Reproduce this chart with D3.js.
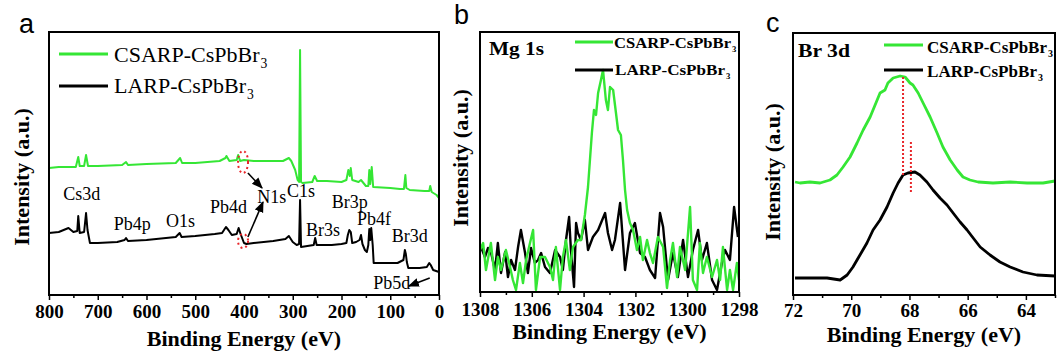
<!DOCTYPE html>
<html>
<head>
<meta charset="utf-8">
<script src="https://cdn.jsdelivr.net/npm/d3@7"></script>
<style>
  body { margin: 0; background: #fff; }
  svg { display: block; }
</style>
</head>
<body>
<svg id="chart" width="1057" height="354"></svg>
<script>
// ---- (a) survey spectrum
const surveyCsarpBE = [800,780,760,745,740,737,728,724,720,700,650,642,638,600,540,531,527,500,450,438,436,430,415,412,408,400,380,320,308,303,295,290,287,285,283,280,260,255,250,230,200,190,186,183,181,178,165,160,155,150,145,143,141,138,135,100,80,72,69,67,60,30,20,18,15,5,0];
const surveyCsarpI = [127,128,128,128,138,129,129,140,129,129,130,133,130,131,132,137,132,132,134,137,139,134,135,140,134,135,134,134,137,134,125,115,113,245,113,112,113,119,114,114,113,115,125,119,127,115,113,115,112,109,109,125,111,128,108,107,106,106,120,107,105,104,104,109,103,100,97];
const surveyLarpBE = [800,780,765,760,750,742,740,737,728,724,721,716,700,660,645,642,638,600,540,532,528,500,460,445,437,432,425,415,411,407,400,395,380,340,315,308,300,292,287,285,283,270,257,254,251,220,200,190,187,184,181,178,170,163,160,157,152,148,145,143,141,139,136,134,100,85,73,70,68,66,63,40,25,20,17,12,0];
const surveyLarpI = [62,63,66,67,63,64,79,62,63,82,65,52,52,53,55,57,54,55,58,62,58,59,61,62,68,65,60,61,67,61,52,51,52,54,56,59,53,50,51,95,48,49,50,57,50,50,51,52,60,65,63,52,53,55,60,51,45,43,50,66,55,67,50,32,32,32,35,45,41,33,27,27,28,32,30,25,23];
const surveyTicks = [800,700,600,500,400,300,200,100,0];
const surveyMinor = [750,650,550,450,350,250,150,50];
// peak labels: [text, BE, intensity]
const peakLabels = [
  ['Cs3d', 771, 95], ['Pb4p', 667, 65], ['O1s', 560, 68], ['Pb4d', 470, 82],
  ['N1s', 373, 92], ['C1s', 312, 98], ['Br3s', 273, 59], ['Br3p', 220, 87],
  ['Pb4f', 168, 70], ['Br3d', 97, 53], ['Pb5d', 135, 6]
];
// arrows: [fromBE, fromI, toBE, toI]
const peakArrows = [[392, 122, 363, 107], [392, 58, 361, 93], [19, 17, 62, 9]];
// dotted rings round the N1s region: [BE, intensity, rx, ry]
const n1sRings = [[402, 133, 5, 11], [402, 54, 5, 7]];

// ---- (b) Mg 1s
const mgCsarpBE = [1308.00,1307.88,1307.77,1307.58,1307.42,1307.31,1307.19,1307.00,1306.84,1306.73,1306.61,1306.46,1306.34,1306.22,1306.07,1305.95,1305.84,1305.68,1305.49,1305.30,1305.18,1305.07,1304.91,1304.80,1304.68,1304.53,1304.41,1304.22,1304.10,1303.95,1303.83,1303.68,1303.60,1303.52,1303.44,1303.33,1303.25,1303.14,1303.06,1302.98,1302.86,1302.75,1302.67,1302.56,1302.48,1302.40,1302.32,1302.21,1302.09,1301.94,1301.82,1301.71,1301.55,1301.44,1301.32,1301.13,1300.93,1300.78,1300.66,1300.55,1300.39,1300.28,1300.08,1299.89,1299.78,1299.62,1299.51,1299.39,1299.24,1299.04,1298.85,1298.73,1298.62,1298.46,1298.35,1298.23,1298.08,1298.00];
const mgCsarpI = [42,49,22,49,12,35,22,42,25,12,2,29,9,32,49,62,2,35,35,25,12,45,2,35,52,22,45,52,52,77,105,159,182,177,199,212,222,192,182,205,202,179,162,157,132,102,82,69,62,42,55,32,52,39,29,55,45,4,32,49,15,45,22,85,12,2,49,19,35,15,32,12,45,2,22,2,29,12];
const mgLarpBE = [1307.96,1307.81,1307.69,1307.58,1307.42,1307.31,1307.19,1307.03,1306.92,1306.80,1306.65,1306.53,1306.42,1306.26,1306.15,1306.03,1305.88,1305.76,1305.64,1305.49,1305.30,1305.10,1304.91,1304.80,1304.68,1304.56,1304.49,1304.37,1304.29,1304.22,1304.10,1303.95,1303.83,1303.64,1303.44,1303.33,1303.17,1303.06,1302.90,1302.79,1302.59,1302.40,1302.21,1302.02,1301.82,1301.63,1301.44,1301.24,1301.05,1300.93,1300.74,1300.55,1300.36,1300.16,1299.97,1299.78,1299.58,1299.43,1299.24,1299.04,1298.85,1298.66,1298.54,1298.35,1298.19,1298.04];
const mgLarpI = [45,35,44,40,22,49,19,40,15,32,22,45,62,39,19,44,29,32,39,25,19,42,35,22,52,75,42,5,69,59,52,72,42,55,62,69,79,59,42,52,89,22,59,69,39,35,22,14,79,65,12,39,15,52,15,42,62,32,49,12,2,29,42,32,85,55];
const mgTicks = [1308,1306,1304,1302,1300,1298];
const mgMinor = [1307,1305,1303,1301,1299];

// ---- (c) Br 3d
const brCsarpBE = [71.93,71.76,71.42,71.07,70.73,70.49,70.28,70.04,69.80,69.59,69.35,69.18,69.01,68.84,68.74,68.56,68.32,68.15,67.98,67.88,67.70,67.53,67.29,67.05,66.85,66.60,66.36,66.16,65.92,65.64,65.13,64.54,63.96,63.41,63.00];
const brCsarpI = [113,112,113,112,115,120,128,138,152,165,178,190,202,205,212,217,219,218,212,210,202,192,178,162,148,135,125,118,115,113,112,113,112,112,114];
const brLarpBE = [71.93,71.42,70.83,70.38,70.14,69.94,69.70,69.46,69.25,69.01,68.77,68.56,68.39,68.22,68.05,67.81,67.64,67.40,67.19,66.95,66.71,66.50,66.26,66.02,65.81,65.57,65.23,64.89,64.54,64.10,63.62,63.00];
const brLarpI = [17,17,17,15,20,28,40,52,65,75,88,102,112,120,122,123,120,113,105,97,90,82,73,65,57,48,40,33,28,23,20,19];
const brTicks = [72,70,68,66,64];
const brMinor = [71,69,67,65,63];
// red dotted peak markers: [BE, fromI, toI]
const brMarks = [[68.22, 120, 218], [67.95, 103, 153]];

const SERIF = '"Liberation Serif", "Times New Roman", serif';
const SANS = '"Liberation Sans", Arial, sans-serif';
const GREEN = '#35e635';

const svg = d3.select('#chart');

svg.append('defs').append('marker')
    .attr('id', 'arrow')
    .attr('viewBox', '0 0 10 10')
    .attr('refX', 9).attr('refY', 5)
    .attr('markerWidth', 7).attr('markerHeight', 7)
    .attr('orient', 'auto')
    .append('path')
    .attr('d', 'M0,1 L10,5 L0,9 Z')
    .attr('fill', '#000');

function panel(box, xDomain, yDomain, majors, minors) {
    const x = d3.scaleLinear().domain(xDomain).range([box.left, box.right]);
    const y = d3.scaleLinear().domain(yDomain).range([box.bottom, box.top]);
    const g = svg.append('g');
    const plot = g.append('g');

    g.append('g')
        .attr('transform', 'translate(0,' + box.bottom + ')')
        .call(d3.axisBottom(x).tickValues(minors).tickSize(3).tickFormat(''))
        .call(s => s.select('.domain').remove())
        .call(s => s.selectAll('text').remove())
        .selectAll('line').attr('stroke-width', 1.5);

    const ax = g.append('g')
        .attr('transform', 'translate(0,' + box.bottom + ')')
        .call(d3.axisBottom(x).tickValues(majors).tickSize(5).tickFormat(d3.format('d')));
    ax.select('.domain').remove();
    ax.selectAll('line').attr('stroke-width', 1.5);
    ax.selectAll('text')
        .attr('y', box.tickY).attr('dy', 0)
        .attr('font-family', SERIF).attr('font-weight', 'bold')
        .attr('font-size', 19).attr('fill', '#000');

    // frame
    g.append('rect')
        .attr('x', box.left).attr('y', box.top)
        .attr('width', box.right - box.left).attr('height', box.bottom - box.top)
        .attr('fill', 'none').attr('stroke', '#000').attr('stroke-width', 2);

    g.append('text')
        .attr('x', (box.left + box.right) / 2).attr('y', box.titleY)
        .attr('text-anchor', 'middle')
        .attr('font-family', SERIF).attr('font-weight', 'bold').attr('font-size', 22)
        .text('Binding Energy (eV)');

    g.append('text')
        .attr('transform', 'translate(' + box.yTitleX + ',' + box.yTitleMid + ') rotate(-90)')
        .attr('text-anchor', 'middle')
        .attr('font-family', SERIF).attr('font-weight', 'bold').attr('font-size', 22)
        .text('Intensity (a.u.)');

    g.append('text')
        .attr('x', box.letterX).attr('y', box.letterY)
        .attr('font-family', SANS).attr('font-size', 27)
        .text(box.letter);

    return {x, y, g, plot};
}

function drawSeries(p, be, vals, color, width) {
    const line = d3.line()
        .x(d => p.x(d[0]))
        .y(d => p.y(d[1]));
    p.plot.append('path')
        .datum(be.map((e, i) => [e, vals[i]]))
        .attr('d', line)
        .attr('fill', 'none')
        .attr('stroke', color)
        .attr('stroke-width', width)
        .attr('stroke-linejoin', 'round');
}

function legendItem(g, x0, x1, yLine, color, label, tx, ty, size, weight, len, lineW) {
    g.append('line')
        .attr('x1', x0).attr('x2', x1).attr('y1', yLine).attr('y2', yLine)
        .attr('stroke', color).attr('stroke-width', lineW);
    const t = g.append('text')
        .attr('x', tx).attr('y', ty)
        .attr('font-family', SERIF).attr('font-weight', weight).attr('font-size', size)
        .text(label);
    if (len) t.attr('textLength', len).attr('lengthAdjust', 'spacingAndGlyphs');
    const w = len || t.node().getComputedTextLength();
    g.append('text')
        .attr('x', tx + w + 1).attr('y', ty + size * 0.28)
        .attr('font-family', SERIF).attr('font-weight', weight).attr('font-size', size * 0.62)
        .text('3');
}

// ---- panel a
const pa = panel({left: 49, right: 439, top: 32, bottom: 295, tickY: 23, titleY: 346,
                  yTitleX: 29, yTitleMid: 177, letter: 'a', letterX: 19, letterY: 33},
                 [800, 0], [0, 263], surveyTicks, surveyMinor);
drawSeries(pa, surveyCsarpBE, surveyCsarpI, GREEN, 2);
drawSeries(pa, surveyLarpBE, surveyLarpI, '#000', 2);

pa.g.selectAll('.peak')
    .data(peakLabels).enter()
    .append('text')
    .attr('class', 'peak')
    .attr('x', d => pa.x(d[1])).attr('y', d => pa.y(d[2]))
    .attr('font-family', SERIF).attr('font-size', 18)
    .text(d => d[0]);

pa.g.selectAll('.ring')
    .data(n1sRings).enter()
    .append('ellipse')
    .attr('class', 'ring')
    .attr('cx', d => pa.x(d[0])).attr('cy', d => pa.y(d[1]))
    .attr('rx', d => d[2]).attr('ry', d => d[3])
    .attr('fill', 'none').attr('stroke', '#e8262a').attr('stroke-width', 2)
    .attr('stroke-dasharray', '2,3');

pa.g.selectAll('.arrow')
    .data(peakArrows).enter()
    .append('line')
    .attr('class', 'arrow')
    .attr('x1', d => pa.x(d[0])).attr('y1', d => pa.y(d[1]))
    .attr('x2', d => pa.x(d[2])).attr('y2', d => pa.y(d[3]))
    .attr('stroke', '#000').attr('stroke-width', 1.6)
    .attr('marker-end', 'url(#arrow)');

legendItem(pa.g, 59, 108, 54, GREEN, 'CSARP-CsPbBr', 114, 62, 22, 'normal', null, 3);
legendItem(pa.g, 59, 108, 86, '#000', 'LARP-CsPbBr', 114, 93, 22, 'normal', null, 3);

// ---- panel b
const pb = panel({left: 480, right: 739, top: 32, bottom: 292, tickY: 24, titleY: 339,
                  yTitleX: 468, yTitleMid: 158, letter: 'b', letterX: 454, letterY: 24},
                 [1308, 1298], [0, 260], mgTicks, mgMinor);
drawSeries(pb, mgLarpBE, mgLarpI, '#000', 2.4);
drawSeries(pb, mgCsarpBE, mgCsarpI, GREEN, 2.4);
pb.g.append('text')
    .attr('x', 489).attr('y', 55)
    .attr('font-family', SERIF).attr('font-weight', 'bold').attr('font-size', 18)
    .attr('textLength', 55).attr('lengthAdjust', 'spacingAndGlyphs')
    .text('Mg 1s');
legendItem(pb.g, 575, 613, 42, GREEN, 'CSARP-CsPbBr', 614, 48, 14, 'bold', 117, 3);
legendItem(pb.g, 575, 613, 70, '#000', 'LARP-CsPbBr', 615, 75, 14, 'bold', 110, 3);

// ---- panel c
const pc = panel({left: 793, right: 1055, top: 33, bottom: 295, tickY: 22, titleY: 342,
                  yTitleX: 780, yTitleMid: 172, letter: 'c', letterX: 766, letterY: 32},
                 [72, 63], [0, 262], brTicks, brMinor);
drawSeries(pc, brCsarpBE, brCsarpI, GREEN, 2.8);
drawSeries(pc, brLarpBE, brLarpI, '#000', 2.8);
pc.g.selectAll('.mark')
    .data(brMarks).enter()
    .append('line')
    .attr('class', 'mark')
    .attr('x1', d => pc.x(d[0])).attr('x2', d => pc.x(d[0]))
    .attr('y1', d => pc.y(d[1])).attr('y2', d => pc.y(d[2]))
    .attr('stroke', '#e8262a').attr('stroke-width', 2)
    .attr('stroke-dasharray', '2,2');
pc.g.append('text')
    .attr('x', 798).attr('y', 57)
    .attr('font-family', SERIF).attr('font-weight', 'bold').attr('font-size', 18)
    .attr('textLength', 52).attr('lengthAdjust', 'spacingAndGlyphs')
    .text('Br 3d');
legendItem(pc.g, 884, 923, 45, GREEN, 'CSARP-CsPbBr', 927, 53, 16, 'bold', 120, 3);
legendItem(pc.g, 884, 923, 70, '#000', 'LARP-CsPbBr', 927, 77, 16, 'bold', 110, 3);
</script>
</body>
</html>
